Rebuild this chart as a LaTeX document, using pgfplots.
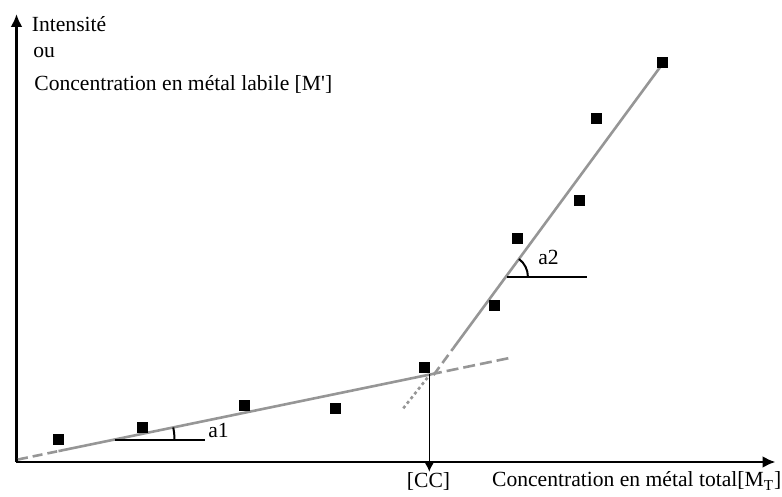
\documentclass[border=0pt]{standalone}
\usepackage{fontspec}
\setmainfont{Liberation Serif}
\usepackage{pgfplots}
\pgfplotsset{compat=1.18}
\usetikzlibrary{arrows.meta}
\definecolor{fitgray}{RGB}{150,150,150}
\newcommand\lab{\fontsize{10.8}{13}\selectfont}
\begin{document}
\begin{tikzpicture}
\useasboundingbox (0,0) rectangle (391pt,248.5pt);
\begin{axis}[
  at={(8.25pt,17.5pt)}, anchor=south west,
  scale only axis, width=379.5pt, height=224pt,
  xmin=0, xmax=759, ymin=0, ymax=448,
  enlargelimits=false, clip=false,
  axis lines=left,
  axis line style={line width=1.3pt, -{Latex[length=6.5pt,width=6pt]}},
  xtick=\empty, ytick=\empty,
]
% measured points
\addplot[only marks, mark=square*, mark size=2.5pt, black] coordinates {
  (42,23) (125.5,35) (227.5,57) (318.5,54) (408,95)
  (477.5,157) (500.5,224) (563,262) (579.5,343.5) (646,399.3)
};
% first regime: low slope a1
\addplot[no marks, fitgray, line width=1.3pt, dash pattern=on 5pt off 2.5pt] coordinates {(1.5,2.5) (42,10.9)};
\addplot[no marks, fitgray, line width=1.3pt] coordinates {(42,10.9) (413.5,87.5)};
\addplot[no marks, fitgray, line width=1.3pt, dash pattern=on 6pt off 2.5pt] coordinates {(413.5,87.5) (493.5,104.1)};
% second regime: steep slope a2
\addplot[no marks, fitgray, line width=1.3pt, dash pattern=on 1.5pt off 1.5pt] coordinates {(386.8,53.7) (413.5,87.5)};
\addplot[no marks, fitgray, line width=1.3pt, dash pattern=on 5pt off 2.5pt] coordinates {(417,86.9) (436.8,113.8)};
\addplot[no marks, fitgray, line width=1.3pt] coordinates {(436.8,113.8) (645.2,397)};
% critical concentration marker
\draw[line width=0.5pt, -{Latex[length=4.5pt,width=4.5pt]}] (axis cs:412.8,87.5) -- (axis cs:412.8,-9.7);
% slope angles
\draw[line width=1pt] (axis cs:98.5,22) -- (axis cs:188.5,22);
\draw[line width=1pt] (axis cs:96,22) ++(0:31pt) arc[start angle=0, end angle=11.7, radius=31pt];
\draw[line width=1pt] (axis cs:490.2,185.3) -- (axis cs:570.2,185.3);
\draw[line width=1pt] (axis cs:489.4,185.3) ++(0:11pt) arc[start angle=0, end angle=53.6, radius=11pt];
\node[anchor=base west, font=\lab, inner sep=0pt] at (axis cs:191.5,24) {a1};
\node[anchor=base west, font=\lab, inner sep=0pt] at (axis cs:521.5,197) {a2};
% axis titles
\node[anchor=base west, font=\lab, inner sep=0pt] at (axis cs:15,430.3) {Intensité};
\node[anchor=base west, font=\lab, inner sep=0pt] at (axis cs:16.5,404.7) {ou};
\node[anchor=base west, font=\lab, inner sep=0pt] at (axis cs:17.5,371.3) {Concentration en métal labile [M\textquotesingle]};
\node[anchor=base west, font=\lab, inner sep=0pt] at (axis cs:475.2,-25) {Concentration en métal total[M\textsubscript{T}]};
\node[anchor=base, font=\lab, inner sep=0pt] at (axis cs:412,-26) {[CC]};
\end{axis}
\end{tikzpicture}
\end{document}
